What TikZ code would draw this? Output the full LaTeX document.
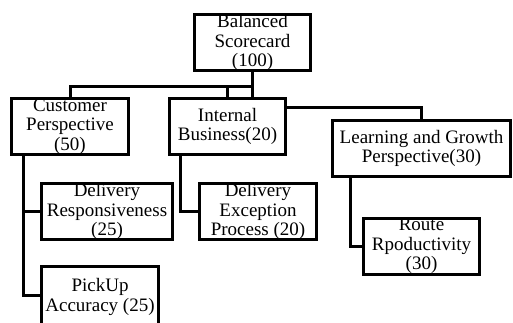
\documentclass[tikz,border=0pt]{standalone}
\usepackage{fontspec}
\setmainfont{Liberation Serif}
\usepackage{tikz}
\usetikzlibrary{positioning, calc}

\begin{document}
\begin{tikzpicture}[
    x=1pt, y=-1pt,
    box/.style={draw, line width=3pt, align=center, inner sep=0pt, minimum height=56pt, font=\fontsize{19}{19.5}\selectfont},
    flow/.style={line width=3pt}
]
\useasboundingbox (0,0) rectangle (513,322);

\node[box, minimum width=116pt] (bsc) at (252.5,42.5) {Balanced\\Scorecard\\(100)};

\node[box, minimum width=117pt] (cust) at (70,126.5) {Customer\\Perspective\\(50)};
\node[box, minimum width=116pt] (intb) at (227.5,126.5) {Internal\\Business(20)};
\node[box, minimum width=178pt] (learn) at (421.5,148.5) {Learning and Growth\\Perspective(30)};

\node[box, minimum width=131pt] (delr) at (107,211.5) {Delivery\\Responsiveness\\(25)};
\node[box, minimum width=117pt, minimum height=62pt] (pick) at (100,297) {PickUp\\Accuracy (25)};
\node[box, minimum width=117pt] (dexc) at (258,211.5) {Delivery\\Exception\\Process (20)};
\node[box, minimum width=116pt] (route) at (421.5,246) {Route\\Rpoductivity\\(30)};

\coordinate (bus) at (252.5,86);

\draw[flow] (bsc.south) -- (bsc.south |- intb.north);
\draw[flow] (cust.north) |- (bus);
\draw[flow] (intb.north) -- (intb.north |- bus);
\draw[flow] ([yshift=19.5pt]intb.east) -| (learn.north);

\draw[flow] ([xshift=-47pt]cust.south) |- (delr.west);
\draw[flow] ([xshift=-47pt]cust.south) |- ([yshift=1.5pt]pick.west);
\draw[flow] ([xshift=-47.5pt]intb.south) |- (dexc.west);
\draw[flow] ([xshift=-71.5pt]learn.south) |- (route.west);
\end{tikzpicture}
\end{document}
